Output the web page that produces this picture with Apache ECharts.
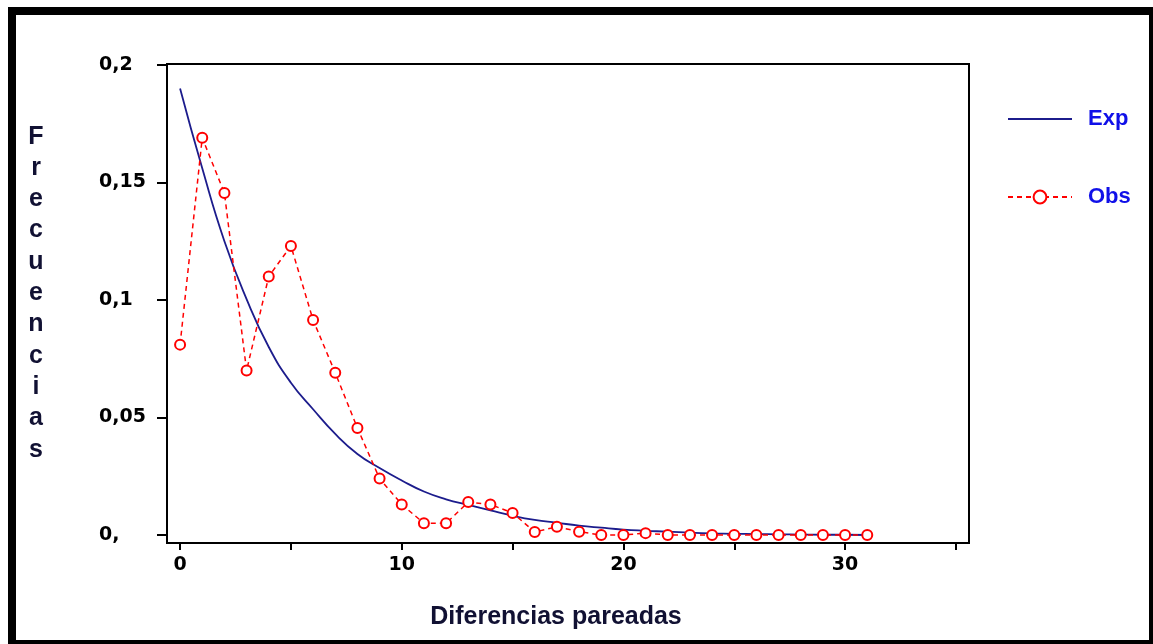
<!DOCTYPE html>
<html>
<head>
<meta charset="utf-8">
<script src="https://cdn.jsdelivr.net/npm/echarts@6/dist/echarts.min.js"></script>
<style>
html,body{margin:0;padding:0;background:#fff;}
#chart{width:1153px;height:644px;}
</style>
</head>
<body>
<div id="chart"></div>
<script>
// x categories (paired differences)
const xValues = [0,1,2,3,4,5,6,7,8,9,10,11,12,13,14,15,16,17,18,19,20,21,22,23,24,25,26,27,28,29,30,31];
// Expected frequencies
const expValues = [0.190,0.156,0.125,0.1004,0.080,0.0648,0.0535,0.0430,0.0345,0.0285,0.0232,0.0185,0.0152,0.0128,0.0105,0.0082,0.0064,0.0052,0.0040,0.0031,0.0023,0.0018,0.0014,0.0010,0.0007,0.0005,0.0004,0.0003,0.0002,0.0001,0.0001,0.0000];
const obsValues = [0.081,0.169,0.1455,0.070,0.110,0.123,0.0915,0.069,0.0455,0.024,0.013,0.005,0.005,0.014,0.013,0.0094,0.0013,0.0035,0.0014,0.0,0.0,0.0008,0.0,0.0,0.0,0.0,0.0,0.0,0.0,0.0,0.0,0.0];
// Tick values and labels
const xTickValues = [0,5,10,15,20,25,30,35];
const xTickLabels = ['0','','10','','20','','30',''];
const yTickValues = [0,0.05,0.1,0.15,0.2];
const yTickLabels = ['0,','0,05','0,1','0,15','0,2'];
const yTitle = 'Frecuencias';
const xTitle = 'Diferencias pareadas';

const chart = echarts.init(document.getElementById('chart'));
const tickFont = {fontFamily:'DejaVu Sans', fontWeight:'bold', fontSize:19, color:'#000'};
function nearestLabel(vals, labels, v){
  let best = 0, d = Infinity;
  vals.forEach((t,i)=>{ if(Math.abs(t-v)<d){d=Math.abs(t-v);best=i;} });
  return labels[best];
}
const legendText = {color:'#1010e8', fontFamily:'Liberation Sans', fontWeight:'bold', fontSize:22, padding:[0,0,0,11]};
const option = {
  backgroundColor:'#fff',
  animation:false,
  grid:{left:167, top:64, right:184, bottom:101, show:true, borderColor:'#000', borderWidth:2, backgroundColor:'transparent'},
  xAxis:{
    type:'value', min:-0.59, max:35.59,
    axisLine:{show:false, onZero:false},
    splitLine:{show:false},
    axisTick:{show:true, inside:false, customValues:xTickValues, length:7, lineStyle:{color:'#000', width:2}},
    axisLabel:{show:true, customValues:xTickValues, margin:13,
      formatter:v=>nearestLabel(xTickValues,xTickLabels,v), ...tickFont}
  },
  yAxis:{
    type:'value', min:-0.0034, max:0.2004,
    axisLine:{show:false, onZero:false},
    splitLine:{show:false},
    axisTick:{show:true, inside:false, customValues:yTickValues, length:10, lineStyle:{color:'#000', width:2}},
    axisLabel:{show:true, customValues:yTickValues, margin:68, align:'left',
      formatter:v=>nearestLabel(yTickValues,yTickLabels,v), ...tickFont}
  },
  legend:[
    {data:['Exp'], left:1007, top:108, padding:0, itemWidth:64, itemHeight:16, orient:'vertical',
     itemStyle:{opacity:0}, textStyle:legendText},
    {data:['Obs'], left:1007, top:186, padding:0, itemWidth:64, itemHeight:16, orient:'vertical',
     textStyle:legendText}
  ],
  series:[
    {name:'Exp', type:'line', data:xValues.map((x,i)=>[x,expValues[i]]), smooth:true, symbol:'none', showSymbol:false,
     color:'#1c1c8c', lineStyle:{color:'#1c1c8c', width:1.8}, z:2},
    {name:'Obs', type:'line', data:xValues.map((x,i)=>[x,obsValues[i]]), symbol:'emptyCircle', symbolSize:10,
     color:'#ff0000', itemStyle:{color:'#ff0000', borderColor:'#ff0000', borderWidth:1.5},
     lineStyle:{color:'#ff0000', width:1.5, type:[5,4]}, z:3}
  ],
  graphic:[
    {type:'rect', shape:{x:12, y:11, width:1141, height:633}, style:{fill:'none', stroke:'#000', lineWidth:8}, silent:true},
    {type:'text', x:36, y:121, style:{text:yTitle.split('').join('\n'), textAlign:'center', textVerticalAlign:'top',
      lineHeight:31.3, font:'bold 25px "Liberation Sans"', fill:'#111133'}},
    {type:'text', x:556, y:617, style:{text:xTitle, textAlign:'center', textVerticalAlign:'middle',
      font:'bold 25px "Liberation Sans"', fill:'#111133'}}
  ]
};
chart.setOption(option);
</script>
</body>
</html>
